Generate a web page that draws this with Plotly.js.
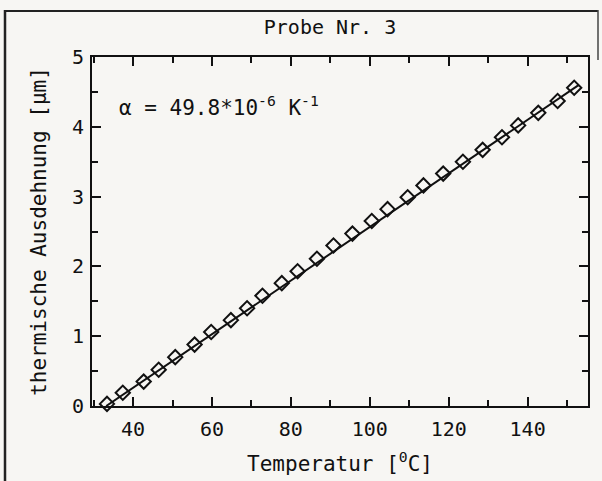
<!DOCTYPE html>
<html>
<head>
<meta charset="utf-8">
<script src="https://cdn.plot.ly/plotly-3.0.1.min.js"></script>
<style>
html,body{margin:0;padding:0;background:#f7f6f3;}
#chart{width:602px;height:481px;}
</style>
</head>
<body>
<div id="chart"></div>
<script>
// Measured points (temperature in °C, thermal expansion in µm)
const temperature = [33.4, 37.4, 42.7, 46.5, 50.7, 55.6, 59.8, 64.8, 68.9, 72.8, 77.7, 81.7, 86.6, 90.8, 95.6,
                     100.5, 104.5, 109.6, 113.6, 118.6, 123.6, 128.6, 133.5, 137.6, 142.7, 147.6, 151.8];
const expansion   = [0.03, 0.19, 0.35, 0.52, 0.70, 0.88, 1.06, 1.23, 1.40, 1.58, 1.76, 1.93, 2.11, 2.30, 2.47,
                     2.65, 2.82, 2.99, 3.16, 3.33, 3.50, 3.67, 3.85, 4.02, 4.20, 4.37, 4.56];
// Fitted line end points
const fitX = [33.2, 153.0];
const fitY = [0.0, 4.60];
const xTicks = [40, 60, 80, 100, 120, 140];
const yTicks = [0, 1, 2, 3, 4, 5];
const titleText = 'Probe Nr. 3';
const xTitle = 'Temperatur [<sup>0</sup>C]';
const yTitle = 'thermische Ausdehnung [µm]';
const alphaText = 'α = 49.8*10<sup>-6</sup> K<sup>-1</sup>';

const FONT = 'DejaVu Sans Mono, monospace';
const L = 92, R = 588, T = 57, B = 406, W = 602, H = 481;
const px = v => (v - L) / (R - L);
const py = v => (B - v) / (B - T);

const traces = [
  {x: fitX, y: fitY, type: 'scatter', mode: 'lines',
   line: {color: '#111', width: 2}, hoverinfo: 'skip', cliponaxis: false},
  {x: temperature, y: expansion, type: 'scatter', mode: 'markers',
   marker: {symbol: 'diamond-open', size: 11, color: '#111', line: {width: 2, color: '#111'}},
   cliponaxis: false}
];

const axisCommon = {
  showline: true, linecolor: '#111', linewidth: 2, mirror: 'allticks',
  ticks: 'inside', ticklen: 9, tickwidth: 2, tickcolor: '#111',
  showgrid: false, zeroline: false,
  tickfont: {family: FONT, size: 20, color: '#111'}
};

const layout = {
  width: W, height: H,
  margin: {l: L, r: W - R, t: T, b: H - B, pad: 0},
  paper_bgcolor: '#f7f6f3', plot_bgcolor: '#f7f6f3',
  showlegend: false,
  title: {text: titleText, font: {family: FONT, size: 20, color: '#111'},
          x: px(330), xref: 'paper', xanchor: 'center', y: 1 - 27 / H, yanchor: 'middle'},
  xaxis: Object.assign({}, axisCommon, {
    range: [29.6, 155.3], tickvals: xTicks, ticktext: xTicks.map(String),
    minor: {dtick: 10, tick0: 0, ticks: 'inside', ticklen: 6, tickwidth: 2, tickcolor: '#111'},
    ticklabelstandoff: 4,
    title: {text: xTitle, font: {family: FONT, size: 21, color: '#111'}, standoff: 16}
  }),
  yaxis: Object.assign({}, axisCommon, {
    range: [0, 5], tickvals: yTicks, ticktext: yTicks.map(String),
    minor: {dtick: 0.5, tick0: 0, ticks: 'inside', ticklen: 6, tickwidth: 2, tickcolor: '#111'},
    ticklabelstandoff: 2,
    title: {text: yTitle, font: {family: FONT, size: 21, color: '#111'}, standoff: 20}
  }),
  annotations: [
    {text: alphaText, xref: 'paper', yref: 'paper', x: px(117), y: py(106),
     xanchor: 'left', yanchor: 'middle', showarrow: false,
     font: {family: FONT, size: 21, color: '#111'}}
  ],
  shapes: [
    {type: 'line', xref: 'paper', yref: 'paper', x0: px(4), x1: px(598), y0: py(11), y1: py(11),
     line: {color: '#222', width: 2}},
    {type: 'line', xref: 'paper', yref: 'paper', x0: px(5), x1: px(5), y0: py(10), y1: py(485),
     line: {color: '#222', width: 2.5}},
    {type: 'line', xref: 'paper', yref: 'paper', x0: px(598), x1: px(598), y0: py(10), y1: py(60),
     line: {color: '#444', width: 1.5}}
  ]
};

Plotly.newPlot('chart', traces, layout, {displayModeBar: false, staticPlot: true});
</script>
</body>
</html>
